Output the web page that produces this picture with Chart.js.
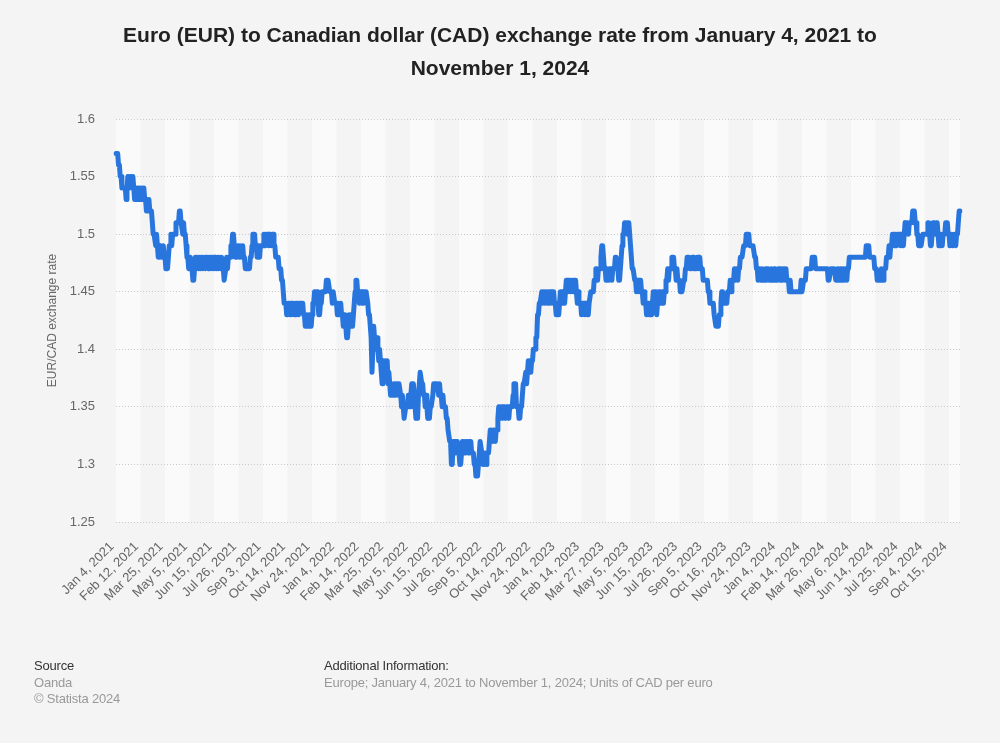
<!DOCTYPE html>
<html>
<head>
<meta charset="utf-8">
<script src="https://cdn.jsdelivr.net/npm/chart.js@4.4.1/dist/chart.umd.min.js"></script>
<style>
html,body{margin:0;padding:0;background:#f4f4f4;}
#wrap{position:relative;width:1000px;height:743px;overflow:hidden;font-family:"Liberation Sans",Arial,sans-serif;}
#c{position:absolute;left:0;top:0;}
#title{position:absolute;left:0;top:18px;width:1000px;text-align:center;font-weight:bold;font-size:21px;line-height:33px;color:#222;}
.foot{position:absolute;font-size:13px;line-height:16.5px;letter-spacing:-0.2px;font-family:"Liberation Sans",Arial,sans-serif;}
.h{color:#333;}
.g{color:#999;}
</style>
</head>
<body>
<div id="wrap">
<canvas id="c" width="1000" height="743"></canvas>
<div id="title">Euro (EUR) to Canadian dollar (CAD) exchange rate from January 4, 2021 to<br>November 1, 2024</div>
<div class="foot" style="left:34px;top:658px"><span class="h">Source</span><br><span class="g">Oanda</span><br><span class="g">© Statista 2024</span></div>
<div class="foot" style="left:324px;top:658px"><span class="h">Additional Information:</span><br><span class="g">Europe; January 4, 2021 to November 1, 2024; Units of CAD per euro</span></div>
</div>
<script>
// Tick labels shown on the x axis (every 29th trading day)
const tickLabels = ["Jan 4, 2021","Feb 12, 2021","Mar 25, 2021","May 5, 2021","Jun 15, 2021","Jul 26, 2021","Sep 3, 2021","Oct 14, 2021","Nov 24, 2021",
  "Jan 4, 2022","Feb 14, 2022","Mar 25, 2022","May 5, 2022","Jun 15, 2022","Jul 26, 2022","Sep 5, 2022","Oct 14, 2022","Nov 24, 2022",
  "Jan 4, 2023","Feb 14, 2023","Mar 27, 2023","May 5, 2023","Jun 15, 2023","Jul 26, 2023","Sep 5, 2023","Oct 16, 2023","Nov 24, 2023",
  "Jan 4, 2024","Feb 14, 2024","Mar 26, 2024","May 6, 2024","Jun 14, 2024","Jul 25, 2024","Sep 4, 2024","Oct 15, 2024"];
const tickEvery = 29;
const yTicks = [1.25,1.3,1.35,1.4,1.45,1.5,1.55,1.6];

// EUR/CAD daily rate (weekdays from Jan 4, 2021 to Nov 1, 2024)
const eurCad = [
1.57,1.57,1.57,1.56,1.56,1.55,1.55,1.54,1.54,1.54, 1.54,1.54,1.53,1.54,1.55,1.55,1.54,1.55,1.55,1.54, 1.55,1.54,1.53,1.53,1.54,1.53,1.54,1.54,1.53,
1.54,1.53,1.54,1.53,1.54,1.53,1.53,1.52,1.53,1.52, 1.53,1.52,1.52,1.52,1.51,1.50,1.50,1.50,1.49,1.50, 1.49,1.48,1.49,1.48,1.49,1.48,1.48,1.49,1.48,
1.48,1.47,1.47,1.47,1.48,1.49,1.49,1.50,1.49,1.50, 1.50,1.50,1.50,1.51,1.51,1.51,1.51,1.52,1.52,1.51, 1.51,1.50,1.51,1.50,1.50,1.49,1.48,1.48,1.47,
1.47,1.48,1.47,1.47,1.46,1.46,1.47,1.48,1.47,1.48, 1.48,1.47,1.48,1.47,1.48,1.48,1.47,1.47,1.48,1.47, 1.48,1.48,1.47,1.48,1.47,1.48,1.48,1.47,1.48,
1.48,1.47,1.48,1.47,1.48,1.47,1.48,1.48,1.47,1.48, 1.47,1.47,1.46,1.46,1.47,1.48,1.47,1.48,1.48,1.48, 1.49,1.49,1.50,1.50,1.49,1.48,1.49,1.48,1.49,
1.49,1.48,1.49,1.48,1.48,1.49,1.48,1.48,1.47,1.47, 1.47,1.47,1.47,1.47,1.48,1.48,1.49,1.50,1.50,1.50, 1.49,1.49,1.48,1.49,1.49,1.48,1.49,1.49,1.49,
1.49,1.50,1.50,1.49,1.50,1.50,1.50,1.49,1.50,1.50, 1.49,1.50,1.50,1.49,1.49,1.48,1.48,1.48,1.48,1.47, 1.47,1.47,1.46,1.46,1.45,1.44,1.44,1.44,1.43,
1.43,1.44,1.44,1.43,1.44,1.44,1.44,1.44,1.43,1.43, 1.44,1.44,1.44,1.43,1.44,1.44,1.44,1.44,1.44,1.43, 1.43,1.42,1.42,1.43,1.42,1.42,1.43,1.42,1.42,
1.43,1.44,1.44,1.45,1.44,1.45,1.45,1.44,1.43,1.43, 1.44,1.44,1.45,1.45,1.45,1.45,1.45,1.46,1.46,1.46, 1.46,1.45,1.45,1.45,1.44,1.45,1.45,1.44,1.44,
1.44,1.43,1.44,1.43,1.43,1.44,1.43,1.43,1.42,1.43, 1.42,1.42,1.41,1.41,1.42,1.43,1.42,1.43,1.43,1.42, 1.43,1.44,1.45,1.46,1.46,1.45,1.45,1.44,1.45,
1.45,1.44,1.45,1.44,1.45,1.45,1.45,1.45,1.44,1.43, 1.43,1.42,1.41,1.38,1.40,1.42,1.41,1.41,1.40,1.41, 1.40,1.39,1.40,1.39,1.38,1.37,1.39,1.39,1.38,
1.39,1.38,1.39,1.37,1.38,1.37,1.36,1.37,1.36,1.36, 1.37,1.37,1.36,1.37,1.37,1.36,1.37,1.37,1.36,1.35, 1.36,1.35,1.34,1.34,1.35,1.35,1.35,1.36,1.35,
1.35,1.36,1.37,1.37,1.37,1.36,1.35,1.34,1.35,1.34, 1.36,1.37,1.38,1.38,1.37,1.37,1.36,1.36,1.35,1.36, 1.35,1.34,1.35,1.34,1.35,1.35,1.35,1.36,1.37,
1.37,1.37,1.37,1.37,1.37,1.36,1.37,1.36,1.36,1.35, 1.36,1.35,1.35,1.35,1.34,1.34,1.33,1.33,1.32,1.32, 1.30,1.30,1.32,1.31,1.32,1.31,1.32,1.32,1.31,
1.31,1.30,1.30,1.31,1.32,1.32,1.31,1.32,1.31,1.32, 1.32,1.31,1.32,1.31,1.32,1.31,1.31,1.31,1.30,1.30, 1.29,1.29,1.29,1.30,1.31,1.32,1.32,1.31,1.30,
1.30,1.30,1.31,1.30,1.31,1.31,1.31,1.32,1.33,1.33, 1.33,1.32,1.33,1.33,1.32,1.33,1.33,1.34,1.35,1.35, 1.34,1.35,1.35,1.34,1.35,1.35,1.34,1.35,1.35,
1.35,1.34,1.35,1.35,1.35,1.35,1.36,1.37,1.37,1.37, 1.35,1.35,1.35,1.34,1.34,1.35,1.35,1.36,1.37,1.37, 1.37,1.38,1.37,1.38,1.39,1.38,1.39,1.38,1.39,
1.39,1.40,1.40,1.40,1.41,1.41,1.43,1.43,1.44,1.44, 1.44,1.45,1.44,1.45,1.45,1.44,1.45,1.45,1.44,1.45, 1.44,1.45,1.45,1.44,1.45,1.45,1.44,1.44,1.43,
1.43,1.44,1.43,1.44,1.45,1.45,1.45,1.44,1.44,1.44, 1.45,1.46,1.46,1.45,1.46,1.46,1.45,1.46,1.46,1.45, 1.46,1.46,1.46,1.45,1.44,1.45,1.44,1.44,1.44,
1.43,1.44,1.44,1.44,1.43,1.44,1.44,1.43,1.43,1.44, 1.44,1.45,1.45,1.45,1.45,1.46,1.46,1.47,1.47,1.46, 1.47,1.47,1.47,1.48,1.49,1.49,1.48,1.47,1.47,
1.46,1.47,1.46,1.46,1.47,1.47,1.47,1.46,1.47,1.47, 1.47,1.48,1.48,1.48,1.47,1.46,1.46,1.47,1.48,1.49, 1.50,1.50,1.51,1.51,1.51,1.50,1.51,1.51,1.50,
1.49,1.48,1.47,1.47,1.47,1.46,1.46,1.45,1.46,1.46, 1.45,1.46,1.46,1.45,1.45,1.44,1.45,1.44,1.44,1.43, 1.44,1.44,1.43,1.44,1.43,1.43,1.44,1.45,1.44,
1.45,1.44,1.43,1.44,1.45,1.45,1.44,1.45,1.44,1.45, 1.44,1.45,1.45,1.46,1.46,1.47,1.46,1.47,1.47,1.47, 1.48,1.48,1.48,1.47,1.47,1.46,1.47,1.46,1.46,
1.46,1.45,1.45,1.45,1.45,1.46,1.46,1.47,1.47,1.48, 1.48,1.48,1.47,1.47,1.47,1.48,1.48,1.47,1.47,1.47, 1.47,1.48,1.48,1.47,1.48,1.47,1.47,1.47,1.46,
1.46,1.46,1.46,1.46,1.46,1.45,1.45,1.44,1.44,1.44, 1.44,1.44,1.43,1.43,1.42,1.42,1.42,1.42,1.43,1.43, 1.44,1.45,1.45,1.44,1.44,1.44,1.44,1.44,1.45,
1.45,1.45,1.46,1.45,1.46,1.46,1.46,1.47,1.46,1.47, 1.47,1.46,1.47,1.47,1.48,1.48,1.48,1.48,1.49,1.49, 1.49,1.50,1.50,1.50,1.50,1.49,1.49,1.49,1.49,
1.49,1.49,1.48,1.48,1.47,1.47,1.46,1.46,1.47,1.46, 1.46,1.47,1.46,1.46,1.46,1.47,1.46,1.47,1.47,1.46, 1.46,1.46,1.47,1.46,1.46,1.47,1.46,1.46,1.46,
1.46,1.47,1.47,1.46,1.47,1.47,1.46,1.47,1.47,1.46, 1.47,1.46,1.46,1.46,1.45,1.46,1.45,1.45,1.45,1.45, 1.45,1.45,1.45,1.45,1.45,1.45,1.45,1.45,1.46,
1.45,1.45,1.46,1.46,1.46,1.47,1.47,1.47,1.47,1.47, 1.47,1.47,1.48,1.48,1.48,1.48,1.47,1.47,1.47,1.47, 1.47,1.47,1.47,1.47,1.47,1.47,1.47,1.47,1.47,
1.47,1.47,1.46,1.46,1.46,1.47,1.47,1.47,1.47,1.47, 1.47,1.46,1.46,1.47,1.46,1.47,1.46,1.47,1.47,1.46, 1.47,1.46,1.47,1.47,1.46,1.47,1.47,1.48,1.48,
1.48,1.48,1.48,1.48,1.48,1.48,1.48,1.48,1.48,1.48, 1.48,1.48,1.48,1.48,1.48,1.48,1.48,1.48,1.49,1.49, 1.49,1.49,1.48,1.48,1.48,1.48,1.48,1.48,1.47,
1.47,1.47,1.46,1.46,1.46,1.46,1.46,1.47,1.46,1.46, 1.47,1.47,1.47,1.48,1.48,1.48,1.49,1.48,1.49,1.49, 1.50,1.50,1.49,1.50,1.50,1.49,1.50,1.50,1.50,
1.50,1.49,1.50,1.49,1.49,1.50,1.51,1.50,1.51,1.51, 1.50,1.51,1.51,1.51,1.51,1.52,1.52,1.52,1.51,1.51, 1.50,1.50,1.49,1.49,1.49,1.49,1.49,1.50,1.50,
1.50,1.50,1.50,1.50,1.51,1.51,1.50,1.49,1.49,1.50, 1.51,1.51,1.51,1.50,1.51,1.51,1.50,1.49,1.49,1.49, 1.50,1.49,1.50,1.50,1.50,1.51,1.51,1.51,1.50,
1.50,1.49,1.49,1.50,1.49,1.49,1.50,1.50,1.49,1.50, 1.50,1.51,1.52,1.52
];

// Category labels: trading days starting Jan 4, 2021
const monthNames = ["Jan","Feb","Mar","Apr","May","Jun","Jul","Aug","Sep","Oct","Nov","Dec"];
function tradingDays(y, m, d, count) {
  const out = [];
  const dt = new Date(Date.UTC(y, m, d));
  while (out.length < count) {
    const wd = dt.getUTCDay();
    if (wd !== 0 && wd !== 6) out.push(monthNames[dt.getUTCMonth()] + " " + dt.getUTCDate() + ", " + dt.getUTCFullYear());
    dt.setUTCDate(dt.getUTCDate() + 1);
  }
  return out;
}
const dates = tradingDays(2021, 0, 4, eurCad.length);

Chart.defaults.font.family = '"Liberation Sans", Arial, sans-serif';

const bands = {
  id: 'bands',
  beforeDraw(chart) {
    const {ctx, chartArea: a, scales: {x}} = chart;
    const n = eurCad.length;
    ctx.save();
    ctx.fillStyle = '#fafafa';
    for (let k = 0; k * tickEvery < n; k += 2) {
      const x0 = x.getPixelForValue(k * tickEvery);
      const x1 = x.getPixelForValue(Math.min((k + 1) * tickEvery, n - 1));
      ctx.fillRect(x0, a.top, x1 - x0, a.bottom - a.top);
    }
    ctx.restore();
  }
};

new Chart(document.getElementById('c'), {
  type: 'line',
  data: {
    labels: dates,
    datasets: [{
      label: 'EUR/CAD exchange rate',
      data: eurCad,
      borderColor: '#2876dd',
      borderWidth: 5,
      pointRadius: 0,
      tension: 0,
      borderJoinStyle: 'round',
      borderCapStyle: 'round',
      fill: false
    }]
  },
  options: {
    responsive: false,
    animation: false,
    devicePixelRatio: 1,
    layout: {padding: {left: 40, right: 40, top: 119, bottom: 0}},
    plugins: {legend: {display: false}, tooltip: {enabled: false}},
    scales: {
      x: {
        grid: {display: false},
        border: {display: false},
        afterBuildTicks(s) { s.ticks = s.ticks.filter(t => t.value % tickEvery === 0); },
        afterFit(s) { s.height = 221; },
        ticks: {
          autoSkip: false, minRotation: 45, maxRotation: 45, padding: 9, labelOffset: -4,
          color: '#666', font: {size: 13},
          callback: v => tickLabels[Math.round(v / tickEvery)]
        }
      },
      y: {
        min: yTicks[0], max: yTicks[yTicks.length - 1],
        afterBuildTicks(s) { s.ticks = yTicks.map(v => ({value: v})); },
        afterFit(s) { s.width = 76; },
        grid: {color: '#c9c9c9', drawTicks: false, lineWidth: 1},
        border: {display: false, dash: [1, 2]},
        ticks: {padding: 21, color: '#666', font: {size: 13}, callback: v => String(Number(v.toFixed(2)))},
        title: {display: true, text: 'EUR/CAD exchange rate', color: '#666', font: {size: 12}, padding: {top: 5, bottom: 0}}
      }
    }
  },
  plugins: [bands]
});
</script>
</body>
</html>
